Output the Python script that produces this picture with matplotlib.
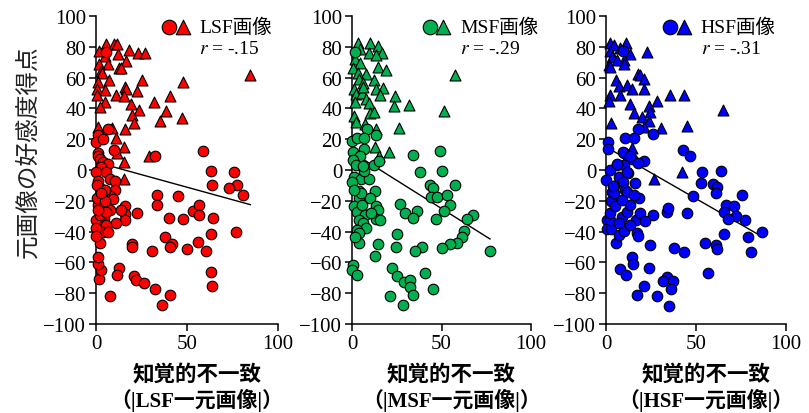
import matplotlib
matplotlib.use("Agg")
import matplotlib.pyplot as plt

plt.rcParams['font.family'] = ['Liberation Serif', 'Noto Sans CJK JP']
plt.rcParams['mathtext.fontset'] = 'stix'

# --- LSF panel ---
lsf_tri_x = [5.7, 10, 11.6, 1.7, 12.1, 18.4, 23, 27, 5, 16.6, 6.6, 1.7, 2.6, 3.3, 12.5,
             14, 7, 1.3, 25.5, 48, 84.7, 0.4, 5, 15.8, 16.4, 22.8, 11.2, 15.3, 40.6, 0.4,
             5.1, 2, 19.5, 23.4, 20, 31.8, 38.6, 35, 21.1, 47, 1.1, 8.8, 16.2, 10.8, 15.6,
             11.8, 29, 15.6, 15.6]
lsf_tri_y = [82, 82, 81.6, 77, 75.4, 78, 76, 76, 74, 71, 69, 69, 64, 63, 66.5,
             66, 58.5, 57, 58.5, 57, 61.5, 52.5, 52, 54, 52.5, 51.5, 49, 48, 48, 48.5,
             44, 41, 43, 39, 36, 44, 38, 32, 30.5, 34, 27.6, 27, 26.5, 21, 14.7,
             11, 9.3, 5.4, -5.8]
lsf_circ_x = [5.3, 6.8, 0.9, 0.2, 4, 10, 1.3, 32.5, 58.8, 63, 75.9, 64, 77.4, 73.3,
              1.3, 2, 3.9, 5.3, 6.6, 3, 5.3, 0.2, 1.1, 7.5, 10.3,
              33.3, 33.6, 44.9, 40.3, 47.6, 22.8, 80.7, 53.1, 56.8, 56.8, 64.5, 77, 63,
              55.9, 60.5, 50.2, 37.9, 42, 40.6, 30.9, 20, 20, 63, 63.8, 12.5, 11.6, 20.8,
              21.9, 26.3, 32.2, 40.6, 36.4, 7.5, 1.7, 2.6, 1.3, 1.1, 2.4,
              16.2, 15.8, 15.8, 14, 11.2, 10.3, 7.5, 9.4, 7.5, 4.4, 5.7, 3.9, 6.6, 0.2,
              0, 0.2, 2, 1.3, 0.6, 2, 0.6, 4.8, 5, 3, 5.3, 1.3]
lsf_circ_y = [76.7, 26.6, 23, 18.4, 20, 13, 11, 9.3, 12.5, -0.4, -1.5, -9.5, -9.5, -12,
              9.3, 7, 5, 2.8, 3.9, 1.7, -1.5, -1.5, -7, -5.8, -7,
              -16, -23, -17.2, -31.3, -31.7, -27.6, -16.5, -26.3, -22.6, -29.1, -31.3, -40, -41.3,
              -47, -52.6, -51.3, -43.3, -48, -50.2, -52.6, -48.3, -49.8, -66.5, -75.2, -63.5, -68.3, -69,
              -71.5, -73.3, -77, -80.9, -87.8, -81.7, -71, -65, -61.3, -56.3, -47.6,
              -23.7, -28.5, -32.4, -25.9, -34.6, -12.8, -17, -18.7, -26, -31, -35.7, -40, -40, -32.4,
              -37.8, -42.6, -29.1, -22.6, -18.3, -11.7, -9.6, -12.8, -20.4, -15, -27.4, -25.9]
lsf_fit_x = [0, 84.8]
lsf_fit_y = [5.1, -22.5]

# --- MSF panel ---
msf_tri_x = [3.4, 10.2, 14.3, 4.7, 16.8, 9.3, 13.6, 1.5, 4.5, 14.3, 19, 0.6, 3.4, 8, 57.7,
             3.7, 6, 12.1, 13.6, 17.3, 0.9, 2, 5.6, 6.1, 15.8, 24.2, 23.6, 32, 51.4, 8,
             9.7, 1.5, 10.2, 12.1, 0.9, 2.4, 7.4, 13.6, 26, 12.7, 14.9, 20.9]
msf_tri_y = [82.7, 82.7, 80.6, 78.8, 76, 75.8, 75, 72, 69.8, 66.9, 64.8, 66, 63.3, 62.2, 61.6,
             59, 56.8, 58.5, 52.9, 53, 52.5, 49.2, 49.7, 53.6, 48.6, 48.2, 41.3, 42, 38.2, 46,
             43.8, 44.3, 36.7, 37.4, 34.8, 31.3, 29.8, 26.6, 27, 15, 9.3, 11.4]
msf_circ_x = [1.5, 8.4, 13.4, 0.2, 2.8, 6.5, 6.9, 0.7, 4.7, 0.6, 2.4, 12.1, 14.9, 33.9, 49.3,
              37.8, 50.3, 57.4, 43.6, 45.3, 44.3, 47.7, 52.9, 13, 0.9, 5, 9.3, 3.7, 0, 6.5, 6.1,
              27, 29.4, 36.3, 34, 46.9, 54.9, 51.6, 67.6, 64.2, 62.8, 61.6, 58.7, 54.6, 50.3,
              77.3, 39.1, 35.4, 25.1, 24.8, 14.3, 13, 22.3, 25.1, 28.9, 32.6, 32.6, 34.1, 40.6,
              45.3, 21.4, 28.5, 0.4, 0, 2.8, 3.7,
              3.7, 0.9, 2.8, 5.6, 7.4, 3.7, 6.1, 8, 2.8, 3.7, 1.9, 10.2, 13.6, 14.3, 13.6,
              15.5, 10.8, 5.2, 0.9]
msf_circ_y = [76.7, 26.6, 22.7, 19, 20.5, 20.5, 13.6, 11.4, 9.3, 6.7, 3.5, 3.5, 6, 9.7, 12.5,
              -1.5, -0.4, -9.5, -9.7, -11.9, -17.7, -17.3, -16, -13.4, -4.8, -5.8, -5.8, -13.4, -8, -0.4, 2.8,
              -22.2, -27.6, -26.3, -31.3, -31.7, -23, -26.5, -29.1, -31.7, -39.6, -43.3, -47.2, -48.3, -50.9,
              -52.4, -50.2, -52.6, -41.7, -49.8, -48.3, -55.7, -63.5, -68.9, -72.6, -71.5, -75.9, -80.9, -66.7,
              -77, -81.7, -87.8, -61.7, -65, -68.3, -47.2,
              -18.3, -23.7, -27, -22.6, -29.1, -32.4, -34.6, -37.4, -38.9, -41, -43.3, -18.3, -23.7, -25.9, -31.7,
              -32.4, -28, -15, -12.8]
msf_fit_x = [0, 77.1]
msf_fit_y = [11.5, -44.8]

# --- HSF panel ---
hsf_tri_x = [2, 10.9, 4.3, 7.6, 2, 13.5, 22.8, 3.3, 9.8, 6.1, 1.5, 2.4, 9.8, 17.6, 19,
             20.9, 5.4, 7, 11.7, 14.4, 21.1, 7.8, 2, 1.5, 13.5, 28.3, 35.7, 43.1, 64.8, 23.7,
             24.6, 15.4, 20, 23.7, 3, 20.9, 30.7, 45, 14.4, 42.2, 26.9]
hsf_tri_y = [82.6, 82.6, 80.9, 79.3, 77.2, 75.6, 76.3, 73.5, 71.3, 71.3, 68, 67, 69, 62.6, 62,
             59, 58.3, 54.6, 55.4, 52.4, 52.8, 48.7, 49, 44.6, 43, 45, 48.5, 49, 39, 41.5,
             37.6, 37, 34.3, 31.5, 30.6, 27.8, 27.2, 28.5, 14.6, -1.5, -5.9]
hsf_circ_x = [9.4, 17.6, 25.9, 10.7, 15.7, 1.1, 0.9, 42.8, 46.5, 10.2, 12, 14.4, 20.9, 17.6,
              6.1, 10.2, 2, 53.3, 64, 12, 7, 0.2, 9.4, 52.8, 59.4, 61.7, 61.1, 4.3, 10.7, 16.3,
              48.3, 75.6, 3.3, 9.4, 13.5, 6.3, 11.8,
              66.7, 70.9, 72.4, 65.7, 68, 77, 45, 33.9, 34.3, 25.9, 65.4, 78.7, 86.7, 80.7, 55.2,
              61.3, 61.9, 43.1, 37.6, 24.6, 17.2, 17.8, 14.4, 15, 23.7, 56.5, 7.6, 10.9, 5.7,
              33.9, 31.5, 37, 36.3, 20.9, 17.2, 28.3, 34.8,
              0.6, 0.6, 2.8, 2.4, 2, 3, 5.2, 4.3, 3.9, 7, 9.8, 8.9, 11.7, 13.5, 18.1, 16.8, 19,
              21.9, 13.5, 7, 11.7, 15.4, 8.9]
hsf_circ_y = [77.2, 26.7, 23.5, 20.9, 20.9, 18.5, 13.5, 12.8, 9.1, 11.3, 8.7, 7, 5.9, 4.3,
              3.3, 3.3, 0, -1.5, -0.7, -1.7, -4.3, -6.5, -7.6, -8.7, -9.1, -11.3, -15, -10.2, -13, -8.7,
              -16.7, -16.3, -14.6, 11.5, 9.3, 3.9, -1.5,
              -23, -23.7, -29.6, -27.4, -32, -32.4, -28, -27, -24.8, -29.1, -41.5, -43.3, -40.4, -53, -47.2,
              -48.7, -51.5, -53, -50.4, -48.7, -41.1, -42.8, -56.3, -61.1, -63.9, -66.7, -64.6, -68.3, -47.6,
              -69.3, -72, -72, -77.4, -75.4, -80.9, -81.7, -88,
              -32.4, -38.5, -38.5, -32.4, -28, -20.4, -23.7, -15, -10.7, -42.2, -39.6, -30.2, -27, -22.6, -18.3, -32.4, -28,
              -32.8, -35.7, -34.6, -14.6, -16.1, -19.3]
hsf_fit_x = [0, 86.3]
hsf_fit_y = [15, -43]

names = ['LSF', 'MSF', 'HSF']
r_labels = ['-.15', '-.29', '-.31']
colors = ['#FF0000', '#00B050', '#0000FF']
data = [
    (lsf_tri_x, lsf_tri_y, lsf_circ_x, lsf_circ_y, lsf_fit_x, lsf_fit_y),
    (msf_tri_x, msf_tri_y, msf_circ_x, msf_circ_y, msf_fit_x, msf_fit_y),
    (hsf_tri_x, hsf_tri_y, hsf_circ_x, hsf_circ_y, hsf_fit_x, hsf_fit_y),
]

W, H = 809, 414
lefts = [96, 352, 606]
widths = [182, 179, 180]
leg_x = [(0.40, 0.478, 0.566), (0.436, 0.51, 0.603), (0.356, 0.433, 0.526)]

fig = plt.figure(figsize=(W / 100, H / 100), dpi=100)

for i in range(3):
    tx, ty, cx, cy, fx, fy = data[i]
    ax = fig.add_axes([lefts[i] / W, (H - 325) / H, widths[i] / W, 308 / H])
    ax.plot(fx, fy, color='black', lw=1, zorder=2)
    ax.scatter(tx, ty, marker='^', s=62, c=colors[i], edgecolors='black',
               linewidths=0.8, clip_on=False, zorder=3)
    ax.scatter(cx, cy, marker='o', s=58, c=colors[i], edgecolors='black',
               linewidths=0.8, clip_on=False, zorder=3)
    ax.set_xlim(0, 100)
    ax.set_ylim(-100, 100)
    ax.set_xticks([0, 50, 100])
    ax.set_yticks(range(-100, 101, 20))
    for s in ['top', 'right']:
        ax.spines[s].set_visible(False)
    for s in ['left', 'bottom']:
        ax.spines[s].set_linewidth(1.1)
    ax.tick_params(direction='out', length=5, width=1.1, labelsize=15, pad=2)

    # legend
    lx1, lx2, lx3 = leg_x[i]
    ax.scatter([lx1], [0.964], marker='o', s=110, c=colors[i], edgecolors='black',
               linewidths=0.8, transform=ax.transAxes, clip_on=False, zorder=5)
    ax.scatter([lx2], [0.964], marker='^', s=110, c=colors[i], edgecolors='black',
               linewidths=0.8, transform=ax.transAxes, clip_on=False, zorder=5)
    ax.text(lx3, 0.964, names[i] + '画像', transform=ax.transAxes, fontsize=14,
            va='center', ha='left')
    ax.text(lx3, 0.893, r'$r$ = ' + r_labels[i], transform=ax.transAxes, fontsize=14,
            va='center', ha='left')

    cxp = (lefts[i] + widths[i] / 2 + 10) / W
    fig.text(cxp, 1 - 375 / H, '知覚的不一致', fontsize=15.5, fontweight='bold',
             ha='center', va='center', family=['Noto Sans CJK JP'])
    fig.text(cxp, 1 - 400 / H, '（|' + names[i] + '一元画像|）',
             fontsize=15, fontweight='bold', ha='center', va='center')

fig.text(28 / W, 1 - 152 / H, '元画像の好感度得点', rotation=90, fontsize=17,
         ha='center', va='center', family=['Noto Sans CJK JP'], color='#222222')

fig.savefig('out.png', dpi=100)
